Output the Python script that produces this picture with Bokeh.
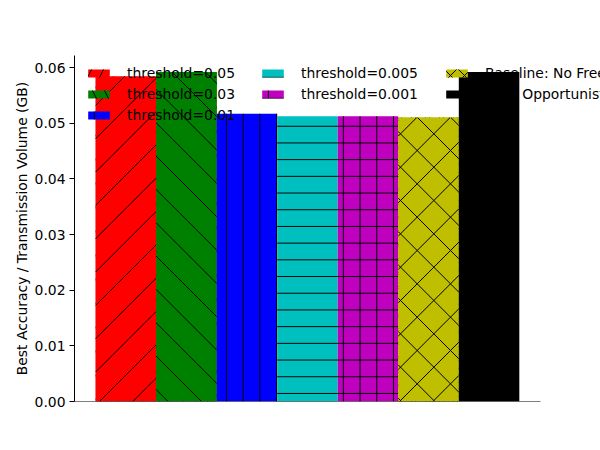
import numpy as np
from bokeh.plotting import figure
from bokeh.models import (Range1d, FixedTicker, Legend, LegendItem, ColumnDataSource,
                          NumeralTickFormatter)
from bokeh.embed import file_html
from bokeh.resources import INLINE

labels = ["threshold=0.05", "threshold=0.03", "threshold=0.01", "threshold=0.005",
          "threshold=0.001", "Baseline: No Freezing", "Full / Opportunistic"]
values = [0.0584, 0.0592, 0.0517, 0.05125, 0.05125, 0.0510, 0.0592]
colors = ["#ff0000", "#008000", "#0000ff", "#00bfbf", "#bf00bf", "#bfbf00", "#000000"]
hatches = ["/", "\\", "|", "-", "+", "x", " "]
y_ticks = [0.0, 0.01, 0.02, 0.03, 0.04, 0.05, 0.06]

FONT = "DejaVu Sans"
FS = "13.9px"
W, H = 600, 450
LEFT, TOP, BOTTOM = 74, 55, 49
FRAME_W_AX = 466            # width of the axes box (spine extent)
FRAME_W = W - LEFT          # frame extends to the canvas edge so the legend is not clipped
FRAME_H = H - TOP - BOTTOM

x_lo, x_hi = -0.35, 7.35
px_x = FRAME_W_AX / (x_hi - x_lo)
x_end = x_lo + FRAME_W / px_x
y_max = max(values) * 1.05
px_y = FRAME_H / y_max

p = figure(width=W, height=H, output_backend="svg", toolbar_location=None,
           x_range=Range1d(x_lo, x_end), y_range=Range1d(0, y_max),
           min_border_left=LEFT, min_border_right=0, min_border_top=TOP, min_border_bottom=BOTTOM)
p.outline_line_color = None
p.xgrid.visible = False
p.ygrid.visible = False
p.background_fill_color = "white"
p.border_fill_color = "white"

builtin = {"|": "vertical_line", "-": "horizontal_line", "+": "cross",
           "/": "right_diagonal_line", "\\": "left_diagonal_line", "x": "diagonal_cross", " ": " "}

def to_px(x, y):
    return LEFT + (x - x_lo) * px_x, TOP + FRAME_H - y * px_y

def to_data(X, Y):
    return x_lo + (X - LEFT) / px_x, (TOP + FRAME_H - Y) / px_y

def diag_lines(xl, xr, top, kind, S=100 / 3, c0=0.0):
    X0, Y1 = to_px(xl, 0)
    X1, Y0 = to_px(xr, top)
    segs = []
    if kind == "ne":   # "/" : X + Y = C
        kmin = int(np.floor((X0 + Y0 - c0) / S)) - 1
        kmax = int(np.ceil((X1 + Y1 - c0) / S)) + 1
        for k in range(kmin, kmax + 1):
            C = c0 + k * S
            a, b = max(X0, C - Y1), min(X1, C - Y0)
            if b - a > 0.5:
                segs.append((to_data(a, C - a), to_data(b, C - b)))
    else:              # "\" : X - Y = C
        kmin = int(np.floor((X0 - Y1 - c0) / S)) - 1
        kmax = int(np.ceil((X1 - Y0 - c0) / S)) + 1
        for k in range(kmin, kmax + 1):
            C = c0 + k * S
            a, b = max(X0, C + Y0), min(X1, C + Y1)
            if b - a > 0.5:
                segs.append((to_data(a, a - C), to_data(b, b - C)))
    return segs

legend_renderers = []
for i, (lab, v, c, h) in enumerate(zip(labels, values, colors, hatches)):
    src = ColumnDataSource(dict(x=[i + 0.5], top=[v]))
    if h in ("/", "\\", "x"):
        # hatched bar (provides the legend swatch), covered by a plain bar + 45-degree hatch lines
        r = p.vbar(x="x", top="top", bottom=0, width=1.0, source=src, fill_color=c,
                   line_color=None, hatch_pattern=builtin[h], hatch_color="black",
                   hatch_weight=1, hatch_scale=24 if h != "x" else 14)
        legend_renderers.append(r)
        p.vbar(x="x", top="top", bottom=0, width=1.0, source=src, fill_color=c, line_color=None)
        kinds = {"/": ["ne"], "\\": ["nw"], "x": ["ne", "nw"]}[h]
        segs = []
        for kd in kinds:
            segs += diag_lines(i, i + 1, v, kd)
        p.segment(x0=[s[0][0] for s in segs], y0=[s[0][1] for s in segs],
                  x1=[s[1][0] for s in segs], y1=[s[1][1] for s in segs],
                  line_color="black", line_width=1)
    else:
        r = p.vbar(x="x", top="top", bottom=0, width=1.0, source=src, fill_color=c,
                   line_color=None, hatch_pattern=builtin[h], hatch_color="black",
                   hatch_weight=1, hatch_scale=16.7)
        legend_renderers.append(r)

# bottom spine (only across the axes extent)
p.segment(x0=[x_lo], x1=[x_hi], y0=[0], y1=[0], line_color="black", line_width=1)

p.xaxis.visible = False

p.yaxis.ticker = FixedTicker(ticks=y_ticks)
p.yaxis.formatter = NumeralTickFormatter(format="0.00")
p.yaxis.minor_tick_line_color = None
p.yaxis.major_tick_in = 0
p.yaxis.major_tick_out = 5
p.yaxis.major_label_text_font = FONT
p.yaxis.major_label_text_font_size = FS
p.yaxis.major_label_text_color = "black"
p.yaxis.axis_label = "Best Accuracy / Transmission Volume (GB)"
p.yaxis.axis_label_text_font = FONT
p.yaxis.axis_label_text_font_size = FS
p.yaxis.axis_label_text_font_style = "normal"
p.yaxis.axis_label_text_color = "black"
p.yaxis.axis_label_standoff = 2
p.yaxis.major_label_standoff = 4

cols = [[0, 1, 2], [3, 4], [5, 6]]
xs = [11, 185, 369]
row_h = 20
gap = 1
top_px = 8
for col, x in zip(cols, xs):
    items = [LegendItem(label=labels[k], renderers=[legend_renderers[k]]) for k in col]
    bottom = top_px + row_h * len(col) + gap * (len(col) - 1)
    leg = Legend(items=items, location=(x, FRAME_H - bottom), orientation="vertical",
                 background_fill_alpha=0, border_line_color=None, padding=0, margin=0,
                 spacing=gap, glyph_width=27, glyph_height=10, label_height=row_h,
                 label_standoff=15, label_text_font=FONT, label_text_font_size=FS,
                 label_text_color="black")
    p.add_layout(leg, "center")

open("out.html", "w").write(file_html(p, INLINE))
